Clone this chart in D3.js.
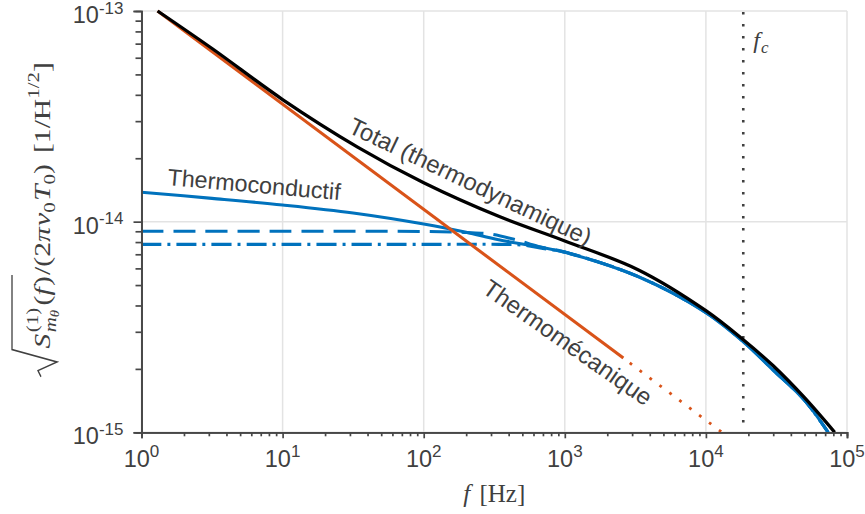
<!DOCTYPE html>
<html>
<head>
<meta charset="utf-8">
<script src="https://cdn.jsdelivr.net/npm/d3@7"></script>
<style>
  html, body { margin: 0; padding: 0; background: #fff; }
  svg { display: block; }
</style>
</head>
<body>
<svg id="chart" width="865" height="514"></svg>
<script>
// ---------------- data ----------------
const xTickExponents = [0, 1, 2, 3, 4, 5];
const yTickExponents = [-13, -14, -15];

// Total (thermodynamique) - black
const totalF = [1.3, 3.2, 10, 34, 100, 340, 1000, 3330, 10000, 18400, 30000, 50000, 81800];
const totalV = [1.0e-13, 6.6e-14, 3.8e-14, 2.26e-14, 1.53e-14, 1.06e-14, 8.1e-15, 5.9e-15, 3.78e-15, 2.75e-15, 2.07e-15, 1.46e-15, 1.0e-15];

// Thermoconductif - blue solid
const condF = [1, 3.16, 10, 31.6, 100, 200, 340, 1000, 3330, 10000, 18400, 30000, 50000, 73500];
const condV = [1.38e-14, 1.29e-14, 1.2e-14, 1.1e-14, 9.75e-15, 8.9e-15, 8.2e-15, 7.15e-15, 5.47e-15, 3.70e-15, 2.69e-15, 1.97e-15, 1.42e-15, 1.0e-15];

// Approximation 1 - blue dashed
const dashF = [1, 10, 100, 200, 300, 450, 650, 1000, 3330, 10000, 18400, 30000, 50000, 73500];
const dashV = [9.0e-15, 9.0e-15, 8.98e-15, 8.88e-15, 8.72e-15, 8.2e-15, 7.62e-15, 7.17e-15, 5.48e-15, 3.71e-15, 2.70e-15, 1.98e-15, 1.42e-15, 1.0e-15];

// Approximation 2 - blue dash-dot
const dashDotF = [1, 10, 100, 340, 500, 700, 1000, 3330, 10000, 18400, 30000, 50000, 73500];
const dashDotV = [7.8e-15, 7.8e-15, 7.8e-15, 7.8e-15, 7.74e-15, 7.46e-15, 7.17e-15, 5.48e-15, 3.71e-15, 2.70e-15, 1.98e-15, 1.42e-15, 1.0e-15];

// Thermomecanique - orange (solid part, then dotted part)
const mechSolidF = [1.3, 2600];
const mechSolidV = [1.0e-13, 2.25e-15];
const mechDotF = [2600, 13000];
const mechDotV = [2.25e-15, 1.0e-15];

// cut-off frequency
const fc = 18400;

// ---------------- layout ----------------
const svg = d3.select("#chart");
const X0 = 141.5, X1 = 847, Y0 = 432.3, Y1 = 11;
const x = d3.scaleLog().domain([1, 1e5]).range([X0, X1]);
const y = d3.scaleLog().domain([1e-15, 1e-13]).range([Y0, Y1]);

const txtCol = "#404040";
const axCol = "#474747";
const sans = "'Liberation Sans', Arial, Helvetica, sans-serif";
const serif = "'Liberation Serif', 'DejaVu Serif', serif";

const zip = (a, b) => a.map((v, i) => [v, b[i]]);

// grid
const grid = svg.append("g");
xTickExponents.forEach(e => {
  grid.append("line").attr("x1", x(10 ** e)).attr("x2", x(10 ** e))
    .attr("y1", Y0).attr("y2", Y1).attr("stroke", "#e3e3e3").attr("stroke-width", 1.5);
});
yTickExponents.forEach(e => {
  grid.append("line").attr("x1", X0).attr("x2", X1)
    .attr("y1", y(10 ** e)).attr("y2", y(10 ** e)).attr("stroke", "#e3e3e3").attr("stroke-width", 1.5);
});

// clip
svg.append("clipPath").attr("id", "clip").append("rect")
  .attr("x", X0).attr("y", Y1 - 3).attr("width", X1 - X0 + 2).attr("height", Y0 - Y1 + 3);

const plot = svg.append("g").attr("clip-path", "url(#clip)");
const line = d3.line().x(d => x(d[0])).y(d => y(d[1])).curve(d3.curveCatmullRom.alpha(0.5));

const blue = "#0072BD", orange = "#D95319";
const LW = 3.1;

// fc dotted line
plot.append("line").attr("x1", x(fc)).attr("x2", x(fc)).attr("y1", Y1 + 1).attr("y2", Y0)
  .attr("stroke", txtCol).attr("stroke-width", 2.6).attr("stroke-dasharray", "2.6,9.4");

plot.append("path").datum(zip(condF, condV)).attr("d", line)
  .attr("fill", "none").attr("stroke", blue).attr("stroke-width", LW);
plot.append("path").datum(zip(dashF, dashV)).attr("d", line)
  .attr("fill", "none").attr("stroke", blue).attr("stroke-width", LW).attr("stroke-dasharray", "22,10");
plot.append("path").datum(zip(dashDotF, dashDotV)).attr("d", line)
  .attr("fill", "none").attr("stroke", blue).attr("stroke-width", LW).attr("stroke-dasharray", "20,6,3,6");
plot.append("path").datum(zip(mechSolidF, mechSolidV)).attr("d", line)
  .attr("fill", "none").attr("stroke", orange).attr("stroke-width", LW);
plot.append("path").datum(zip(mechDotF, mechDotV)).attr("d", line)
  .attr("fill", "none").attr("stroke", orange).attr("stroke-width", 2.8).attr("stroke-dasharray", "2.8,9.6").attr("stroke-dashoffset", -8);
plot.append("path").datum(zip(totalF, totalV)).attr("d", line)
  .attr("fill", "none").attr("stroke", "#000").attr("stroke-width", LW + 0.2);

// axes
const xAxis = d3.axisBottom(x).tickValues(xTickExponents.map(e => 10 ** e)).tickSize(6).tickFormat("");
const xMinor = [];
for (let e = 0; e < 5; e++) for (let k = 2; k <= 9; k++) xMinor.push(k * 10 ** e);
const xAxisMinor = d3.axisBottom(x).tickValues(xMinor).tickSize(4).tickFormat("");
const yAxis = d3.axisLeft(y).tickValues(yTickExponents.map(e => 10 ** e)).tickSize(8).tickFormat("");
const yMinor = [];
for (let e = -15; e < -13; e++) for (let k = 2; k <= 9; k++) yMinor.push(k * 10 ** e);
const yAxisMinor = d3.axisLeft(y).tickValues(yMinor).tickSize(6).tickFormat("");

function styleAxis(g) {
  g.selectAll("path").attr("stroke", axCol).attr("stroke-width", 1.7);
  g.selectAll("line").attr("stroke", axCol).attr("stroke-width", 1.7);
}
svg.append("g").attr("transform", `translate(0,${Y0})`).call(xAxisMinor).call(styleAxis);
svg.append("g").attr("transform", `translate(0,${Y0})`).call(xAxis).call(styleAxis);
svg.append("g").attr("transform", `translate(${X0},0)`).call(yAxisMinor).call(styleAxis);
svg.append("g").attr("transform", `translate(${X0},0)`).call(yAxis).call(styleAxis);

// tick labels
function powLabel(g, exp, anchor, px, py) {
  const t = g.append("text").attr("x", px).attr("y", py).attr("text-anchor", anchor)
    .attr("font-family", sans).attr("fill", txtCol);
  t.append("tspan").attr("font-size", 23.5).text("10");
  t.append("tspan").attr("font-size", 17).attr("dy", -9.5).text(String(exp));
  return t;
}
const tl = svg.append("g");
xTickExponents.forEach(e => powLabel(tl, e, "middle", x(10 ** e), Y0 + 34.5));
yTickExponents.forEach(e => powLabel(tl, e, "end", X0 - 18, y(10 ** e) + 12));

// curve labels
function rotLabel(txt, px, py, ang, size) {
  svg.append("text").attr("transform", `translate(${px},${py}) rotate(${ang})`)
    .attr("font-family", sans).attr("font-size", size).attr("fill", txtCol).text(txt);
}
rotLabel("Thermoconductif", 167, 185, 5, 23.3);
rotLabel("Total (thermodynamique)", 347, 132, 25.5, 24);
rotLabel("Thermomécanique", 481, 292, 35, 24);

// fc label
const fcT = svg.append("text").attr("x", x(fc) + 10).attr("y", 48)
  .attr("font-family", serif).attr("font-size", 24).attr("fill", txtCol);
fcT.append("tspan").attr("font-style", "italic").text("f");
fcT.append("tspan").attr("font-style", "italic").attr("font-size", 17).attr("dy", 5).attr("dx", 1).text("c");

// x label
const xl = svg.append("text").attr("x", (X0 + X1) / 2).attr("y", 502).attr("text-anchor", "middle")
  .attr("font-family", serif).attr("font-size", 25).attr("fill", txtCol);
xl.append("tspan").attr("font-style", "italic").text("f");
xl.append("tspan").attr("dx", 3).text(" [Hz]");

// y label (built piece by piece)
const yl = svg.append("g").attr("transform", "translate(50,220) rotate(-90)");
const inner = yl.append("g");
const M = 24, SS = 17;
let cur = 24;
function piece(t, opt) {
  const el = inner.append("text").attr("x", opt.x !== undefined ? opt.x : cur).attr("y", opt.v || 0)
    .attr("font-family", serif).attr("font-size", opt.size || M).attr("fill", txtCol)
    .attr("font-style", opt.it ? "italic" : "normal").text(t);
  const w = el.node().getComputedTextLength();
  if (opt.x === undefined) cur += w;
  return w;
}
piece("S", { it: true });
const s0 = cur + 1;
const supW = piece("(1)", { size: SS, v: -12, x: s0 });
const subW1 = piece("m", { it: true, size: SS, v: 6, x: s0 });
const subW2 = piece("θ", { it: true, size: 12, v: 9, x: s0 + subW1 });
cur = s0 + Math.max(supW, subW1 + subW2) + 2;
piece("(", {});
piece("f", { it: true });
cur += 1;
piece(")", {});
const radEnd = cur + 1;
cur += 1;
piece("/(2", {});
piece("π", { it: true });
cur += 1;
piece("ν", { it: true });
piece("0", { size: SS, v: 5 });
cur += 1;
piece("T", { it: true });
piece("0", { size: SS, v: 5 });
piece(")", {});
cur += 9;
piece("[1/H", {});
piece("1/2", { size: SS, v: -11 });
piece("]", {});
const total = cur;
inner.append("path")
  .attr("d", `M1,-9 L6,-12 L13,7 L23,-38 L${radEnd},-38`)
  .attr("fill", "none").attr("stroke", txtCol).attr("stroke-width", 1.3);
const sx = 316 / total;
inner.attr("transform", `scale(${sx},1) translate(${-total / 2},0)`);
</script>
</body>
</html>
